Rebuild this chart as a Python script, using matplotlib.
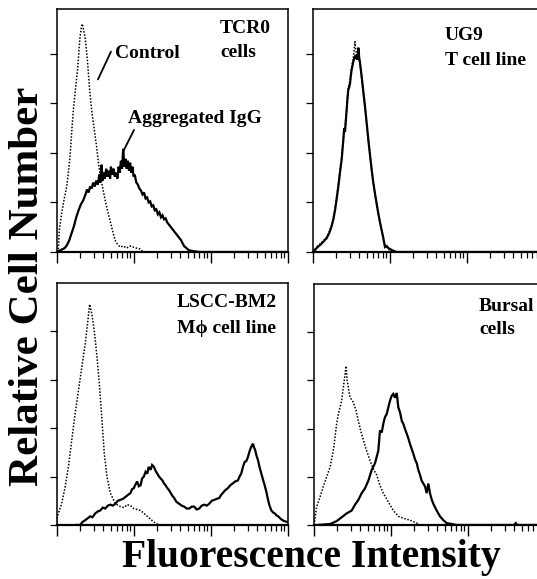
import numpy as np
import matplotlib
matplotlib.use('Agg')
import matplotlib.pyplot as plt
from matplotlib.ticker import LogLocator, NullFormatter, FixedLocator

plt.rcParams['font.family'] = ['Liberation Serif', 'DejaVu Serif']
plt.rcParams['font.weight'] = 'bold'

# x values are log10 of fluorescence intensity, y values are cell counts
# TCR0 cells
tcr_ctrl_x = [0.00, 0.017, 0.03, 0.06, 0.09, 0.126, 0.15, 0.169, 0.19, 0.212, 0.23, 0.247,
              0.265, 0.277, 0.29, 0.299, 0.315, 0.329, 0.345, 0.364, 0.38, 0.394, 0.41, 0.42,
              0.435, 0.45, 0.47, 0.485, 0.50, 0.515, 0.535, 0.558, 0.59, 0.623, 0.655, 0.688,
              0.72, 0.753, 0.785, 0.818, 0.86, 0.905, 0.95, 0.991, 1.03, 1.078, 1.12]
tcr_ctrl_y = [0, 2, 22, 39, 52, 66, 82, 96, 120, 143, 156, 170,
              182, 194, 208, 217, 226, 230, 224, 217, 205, 194, 178, 167,
              155, 143, 131, 123, 114, 106, 92, 79, 66, 53, 42, 32,
              22, 12, 8, 5, 6, 4, 6, 5, 4, 3, 0]
tcr_igg_x = [0.00, 0.05, 0.10, 0.13, 0.16, 0.19, 0.22, 0.25, 0.28, 0.31, 0.34, 0.37,
             0.39, 0.41, 0.43, 0.45, 0.47, 0.49, 0.51, 0.53, 0.55, 0.56, 0.58, 0.59,
             0.61, 0.62, 0.64, 0.655, 0.67, 0.69, 0.70, 0.72, 0.735, 0.75, 0.77, 0.785,
             0.80, 0.815, 0.83, 0.845, 0.86, 0.875, 0.89, 0.905, 0.92, 0.935, 0.95, 0.965,
             0.98, 0.995, 1.01, 1.03, 1.05, 1.07, 1.09, 1.11, 1.13, 1.15, 1.17, 1.19,
             1.21, 1.23, 1.25, 1.27, 1.29, 1.31, 1.33, 1.35, 1.37, 1.39, 1.41, 1.43,
             1.45, 1.47, 1.49, 1.51, 1.53, 1.55, 1.57, 1.59, 1.61, 1.63, 1.65, 1.68,
             1.71, 1.76, 1.85, 3.0]
tcr_igg_y = [0, 2, 4, 7, 12, 19, 26, 35, 42, 48, 52, 58,
             63, 60, 66, 64, 70, 66, 72, 68, 78, 70, 88, 72,
             80, 74, 84, 76, 82, 74, 86, 78, 84, 76, 80, 74,
             86, 80, 92, 84, 104, 86, 94, 84, 92, 82, 90, 80,
             86, 76, 78, 70, 68, 64, 62, 58, 60, 54, 55, 50,
             51, 46, 47, 42, 43, 38, 40, 35, 37, 33, 34, 30,
             28, 26, 24, 22, 20, 18, 16, 14, 12, 9, 6, 4,
             2, 1, 0, 0]

# UG9 T cell line
ug9_ctrl_x = [0.00, 0.026, 0.06, 0.091, 0.13, 0.178, 0.21, 0.242, 0.265, 0.286, 0.31, 0.329,
              0.35, 0.372, 0.394, 0.416, 0.437, 0.459, 0.481, 0.502, 0.524, 0.545, 0.556, 0.567,
              0.589, 0.61, 0.632, 0.675, 0.719, 0.762, 0.805, 0.848, 0.892, 0.935, 0.978, 1.022,
              1.087, 3.0]
ug9_ctrl_y = [0, 3, 6, 8, 11, 15, 20, 27, 35, 44, 57, 68,
              82, 95, 115, 126, 145, 166, 173, 186, 196, 212, 203, 200,
              198, 190, 176, 146, 112, 82, 58, 38, 21, 7, 3, 1,
              0, 0]
ug9_stain_x = [0.00, 0.026, 0.06, 0.091, 0.13, 0.178, 0.21, 0.242, 0.265, 0.286, 0.31, 0.329,
               0.35, 0.372, 0.385, 0.394, 0.405, 0.416, 0.427, 0.437, 0.448, 0.459, 0.47, 0.481,
               0.492, 0.502, 0.513, 0.524, 0.535, 0.545, 0.556, 0.567, 0.578, 0.589, 0.60, 0.61,
               0.621, 0.632, 0.653, 0.675, 0.697, 0.719, 0.74, 0.762, 0.783, 0.805, 0.826, 0.848,
               0.87, 0.892, 0.913, 0.935, 0.957, 0.978, 1.0, 1.022, 1.05, 1.087, 3.0]
ug9_stain_y = [0, 2, 5, 7, 10, 14, 19, 26, 33, 42, 55, 66,
               80, 93, 105, 113, 125, 121, 133, 143, 155, 164, 166, 170,
               178, 184, 188, 192, 195, 197, 196, 199, 194, 206, 196, 191,
               184, 177, 162, 147, 130, 113, 98, 83, 70, 59, 49, 39,
               30, 22, 14, 5, 6, 4, 3, 2, 1, 0, 0]

# LSCC-BM2 macrophage cell line
lscc_ctrl_x = [0.00, 0.004, 0.061, 0.105, 0.148, 0.192, 0.235, 0.279, 0.322, 0.366, 0.397, 0.423,
               0.453, 0.484, 0.519, 0.553, 0.584, 0.614, 0.649, 0.693, 0.758, 0.824, 0.87, 0.911,
               0.955, 0.997, 1.04, 1.085, 1.13, 1.172, 1.215, 1.259, 1.30, 1.346]
lscc_ctrl_y = [0, 9, 22, 39, 60, 88, 115, 139, 163, 187, 208, 228,
               218, 201, 174, 143, 108, 74, 50, 33, 22, 19, 18, 21,
               20, 17, 16, 15, 12, 9, 6, 3, 1, 0]
lscc_stain_x = [0.25, 0.30, 0.33, 0.366, 0.40, 0.431, 0.46, 0.497, 0.53, 0.562, 0.595, 0.627,
                0.66, 0.693, 0.725, 0.758, 0.79, 0.824, 0.856, 0.889, 0.92, 0.954, 0.975, 0.997,
                1.02, 1.041, 1.063, 1.085, 1.105, 1.128, 1.15, 1.172, 1.19, 1.216, 1.235, 1.259,
                1.28, 1.303, 1.325, 1.346, 1.37, 1.39, 1.41, 1.434, 1.455, 1.477, 1.50, 1.521,
                1.55, 1.586, 1.62, 1.651, 1.685, 1.717, 1.75, 1.782, 1.815, 1.847, 1.88, 1.913,
                1.945, 1.978, 2.01, 2.043, 2.075, 2.109, 2.13, 2.153, 2.185, 2.218, 2.25, 2.283,
                2.315, 2.349, 2.37, 2.392, 2.415, 2.436, 2.458, 2.479, 2.50, 2.514, 2.53, 2.545,
                2.56, 2.575, 2.59, 2.61, 2.63, 2.654, 2.675, 2.697, 2.72, 2.741, 2.76, 2.784,
                2.806, 2.828, 2.85, 2.872, 2.91, 2.95, 3.0]
lscc_stain_y = [0, 0, 3, 5, 7, 9, 8, 12, 14, 15, 18, 17,
                20, 21, 20, 22, 25, 26, 27, 29, 31, 33, 37, 38,
                42, 45, 40, 41, 48, 50, 55, 53, 60, 57, 62, 60,
                56, 53, 50, 48, 46, 43, 41, 38, 36, 33, 30, 28,
                24, 22, 20, 19, 17, 17, 19, 19, 16, 17, 20, 21,
                20, 22, 25, 26, 27, 28, 31, 33, 36, 38, 41, 43,
                45, 46, 50, 53, 60, 65, 66, 70, 76, 79, 82, 84,
                80, 77, 72, 67, 60, 53, 47, 41, 34, 26, 20, 15,
                13, 12, 10, 9, 6, 4, 3]

# Bursal cells
bursa_ctrl_x = [0.00, 0.035, 0.078, 0.121, 0.165, 0.208, 0.251, 0.273, 0.294, 0.316, 0.338, 0.359,
                0.381, 0.403, 0.416, 0.43, 0.446, 0.468, 0.49, 0.511, 0.545, 0.576, 0.606, 0.641,
                0.684, 0.727, 0.771, 0.814, 0.857, 0.90, 0.965, 1.03, 1.095, 1.16, 1.247, 1.334,
                1.38]
bursa_ctrl_y = [0, 19, 29, 40, 50, 60, 77, 91, 105, 115, 122, 129,
                143, 156, 165, 150, 143, 132, 130, 127, 119, 108, 98, 88,
                77, 67, 58, 52, 41, 33, 24, 15, 9, 7, 5, 2,
                0]
bursa_stain_x = [0.035, 0.208, 0.294, 0.359, 0.424, 0.489, 0.532, 0.576, 0.619, 0.662, 0.706, 0.749,
                 0.792, 0.835, 0.857, 0.88, 0.90, 0.922, 0.944, 0.965, 0.987, 1.009, 1.03, 1.052,
                 1.074, 1.095, 1.117, 1.14, 1.16, 1.18, 1.203, 1.225, 1.247, 1.268, 1.29, 1.312,
                 1.335, 1.355, 1.377, 1.398, 1.42, 1.442, 1.463, 1.485, 1.506, 1.53, 1.55, 1.593,
                 1.636, 1.68, 1.723, 1.788, 1.853, 2.6, 2.62, 2.64, 3.0]
bursa_stain_y = [0, 1, 4, 8, 12, 15, 21, 26, 33, 38, 46, 57,
                 64, 77, 98, 96, 105, 112, 115, 122, 129, 134, 136, 132,
                 137, 122, 117, 108, 105, 100, 95, 90, 84, 79, 74, 68,
                 64, 57, 52, 46, 43, 40, 33, 43, 33, 26, 22, 15,
                 9, 5, 2, 1, 0, 0, 2, 0, 0]

# panel labels (two lines each)
panel_labels = [('TCR0', 'cells'), ('UG9', 'T cell line'),
                ('LSCC-BM2', 'M\u03d5 cell line'), ('Bursal', 'cells')]

y_ticks = [0, 50, 100, 150, 200]


def draw_panel(ax, ctrl_x, ctrl_y, stain_x, stain_y, ymax):
    ax.plot(10 ** np.array(ctrl_x), ctrl_y, color='black', lw=1.1,
            linestyle=(0, (1.0, 1.1)), zorder=2)
    ax.plot(10 ** np.array(stain_x), stain_y, color='black', lw=1.6,
            solid_joinstyle='miter', zorder=3)
    ax.set_xscale('log')
    ax.set_xlim(1, 1000)
    ax.set_ylim(0, ymax)
    ax.xaxis.set_major_locator(FixedLocator([1, 10, 100, 1000]))
    ax.xaxis.set_minor_locator(LogLocator(base=10, subs=np.arange(2, 10)))
    ax.xaxis.set_major_formatter(NullFormatter())
    ax.xaxis.set_minor_formatter(NullFormatter())
    ax.set_yticks(y_ticks)
    ax.set_yticklabels([])
    ax.tick_params(axis='x', which='major', direction='out', length=8, width=1.0)
    ax.tick_params(axis='x', which='minor', direction='out', length=4, width=0.9)
    ax.tick_params(axis='y', which='major', direction='out', length=5, width=0.9)
    for sp in ax.spines.values():
        sp.set_linewidth(1.1)
    ax.spines['bottom'].set_linewidth(1.6)


W, H = 537, 579
fig = plt.figure(figsize=(W / 100, H / 100), dpi=100)


def px_axes(left, top, right, bottom):
    return fig.add_axes([left / W, 1 - bottom / H, (right - left) / W, (bottom - top) / H])


ax_tl = px_axes(57, 9, 288, 252)
ax_tr = px_axes(313, 9, 544, 252)
ax_bl = px_axes(57, 283, 288, 525)
ax_br = px_axes(314, 284, 545, 525)

draw_panel(ax_tl, tcr_ctrl_x, tcr_ctrl_y, tcr_igg_x, tcr_igg_y, 245)
draw_panel(ax_tr, ug9_ctrl_x, ug9_ctrl_y, ug9_stain_x, ug9_stain_y, 245)
draw_panel(ax_bl, lscc_ctrl_x, lscc_ctrl_y, lscc_stain_x, lscc_stain_y, 250)
draw_panel(ax_br, bursa_ctrl_x, bursa_ctrl_y, bursa_stain_x, bursa_stain_y, 250)

# panel labels, positions in axes fractions (x, first baseline, second baseline)
label_pos = [(0.706, 0.901, 0.802), (0.571, 0.872, 0.770),
             (0.519, 0.901, 0.793), (0.714, 0.888, 0.793)]
for ax, (l1, l2), (lx, ly1, ly2) in zip([ax_tl, ax_tr, ax_bl, ax_br], panel_labels, label_pos):
    ax.text(lx, ly1, l1, transform=ax.transAxes, fontsize=14, fontweight='bold',
            ha='left', va='baseline')
    ax.text(lx, ly2, l2, transform=ax.transAxes, fontsize=14, fontweight='bold',
            ha='left', va='baseline')

# leader labels in the TCR0 panel
ax_tl.annotate('', xy=(10 ** 0.532, 174), xytext=(10 ** 0.701, 202),
               arrowprops=dict(arrowstyle='-', lw=1.3, color='black', shrinkA=0, shrinkB=0))
ax_tl.text(10 ** 0.753, 196, 'Control', fontsize=14, fontweight='bold',
           ha='left', va='baseline')
ax_tl.annotate('', xy=(10 ** 0.870, 103), xytext=(10 ** 1.0, 123),
               arrowprops=dict(arrowstyle='-', lw=1.3, color='black', shrinkA=0, shrinkB=0))
ax_tl.text(10 ** 0.922, 130, 'Aggregated IgG', fontsize=14, fontweight='bold',
           ha='left', va='baseline')

fig.text(28 / W, 1 - 286 / H, 'Relative Cell Number', rotation=90, fontsize=31,
         fontweight='bold', ha='center', va='center')
fig.text(311 / W, 1 - 567 / H, 'Fluorescence Intensity', fontsize=28.5,
         fontweight='bold', ha='center', va='baseline')

fig.savefig('out.png', dpi=100)
